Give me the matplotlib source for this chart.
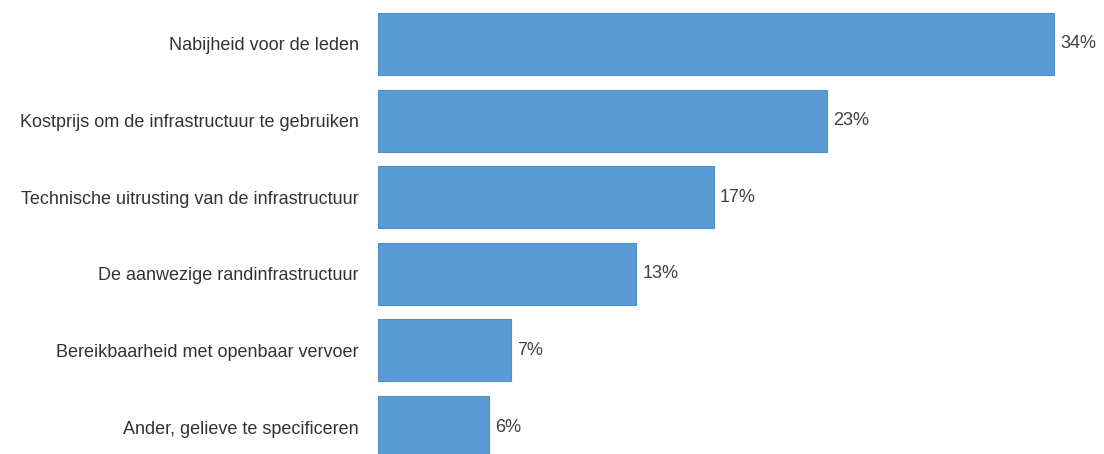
import matplotlib
matplotlib.use("Agg")
import matplotlib.pyplot as plt

categories = [
    "Nabijheid voor de leden",
    "Kostprijs om de infrastructuur te gebruiken",
    "Technische uitrusting van de infrastructuur",
    "De aanwezige randinfrastructuur",
    "Bereikbaarheid met openbaar vervoer",
    "Ander, gelieve te specificeren",
]
values = [34.0, 22.6, 16.9, 13.0, 6.7, 5.6]
value_labels = ["34%", "23%", "17%", "13%", "7%", "6%"]

plt.rcParams["font.family"] = ["Liberation Sans", "DejaVu Sans"]

W, H = 1104, 454
fig = plt.figure(figsize=(W / 100, H / 100), dpi=100)
ax = fig.add_axes([378 / W, 0, (W - 378 - 8) / W, 1])

px_per_unit = 19.88
ax.set_xlim(0, (W - 378 - 8) / px_per_unit)
pitch = 76.6
ax.set_ylim((H - 44) / pitch, -44 / pitch)

y = list(range(len(categories)))
ax.barh(y, values, height=0.81, color="#5B9BD5", edgecolor="#4F8FCB", linewidth=0.8)

for yi, v, lab in zip(y, values, value_labels):
    ax.text(v + 0.3, yi, lab, va="center", ha="left", fontsize=13, color="#404040")

ax.set_yticks(y)
ax.set_yticklabels(categories, fontsize=13, color="#333333")
ax.tick_params(axis="y", length=0, pad=13.7)
ax.set_xticks([])
for s in ax.spines.values():
    s.set_visible(False)

fig.savefig("out.png", dpi=100, facecolor="white")
